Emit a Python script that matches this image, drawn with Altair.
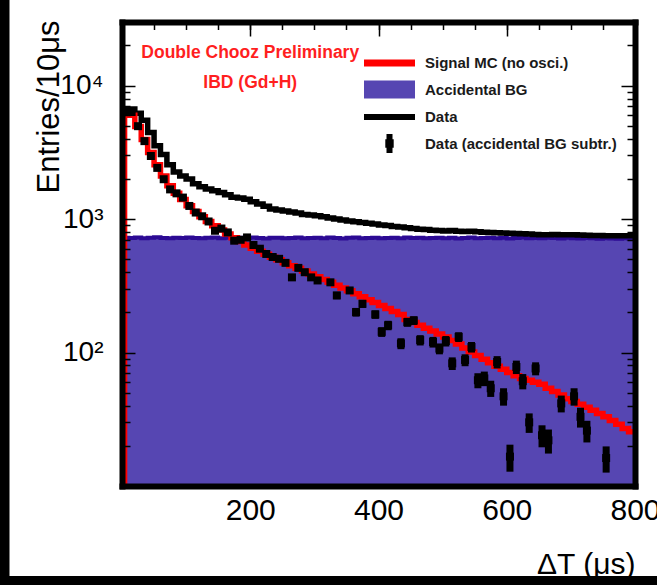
import altair as alt
import pandas as pd

# ---------------- data ----------------
bin_lo = list(range(0, 800, 10))  # 10 us bins
mc_start = 4  # left edge of the MC histogram as drawn

mc_vals = [6400, 6000, 4950, 3950, 3150, 2550, 2100, 1780, 1560, 1400,
           1260, 1140, 1040, 960, 890, 830, 775, 725, 680, 640,
           605, 575, 545, 518, 495, 470, 448, 428, 408, 388,
           370, 353, 336, 320, 305, 290, 276, 262, 249, 237,
           225, 214, 203, 193, 177, 168, 160, 152, 145, 138,
           131, 123, 116, 108, 101, 95, 89, 84, 79, 75,
           71, 67, 64, 62, 60, 58, 54, 51, 48, 45,
           43, 41, 39, 37, 35, 33, 31, 29, 27, 25.5]

bg_vals = [725, 722, 728, 720, 724, 730, 722, 718, 726, 721,
           729, 723, 719, 725, 727, 720, 724, 718, 726, 722,
           728, 721, 717, 724, 726, 720, 723, 729, 718, 722,
           725, 719, 727, 721, 716, 724, 728, 720, 722, 726,
           718, 723, 725, 719, 727, 721, 724, 718, 722, 726,
           720, 725, 717, 723, 728, 719, 722, 726, 720, 724,
           716, 722, 727, 719, 723, 718, 725, 721, 717, 724,
           720, 716, 722, 718, 714, 720, 716, 712, 718, 714]

data_vals = [6700, 6700, 6200, 5500, 4450, 3550, 3050, 2550, 2250, 2100,
             2000, 1840, 1750, 1680, 1630, 1580, 1520, 1460, 1440, 1410,
             1350, 1300, 1250, 1190, 1170, 1150, 1130, 1110, 1085, 1075,
             1060, 1040, 1020, 1000, 985, 970, 955, 945, 930, 918,
             905, 895, 880, 872, 860, 850, 840, 835, 826, 820,
             815, 822, 812, 808, 810, 805, 798, 795, 790, 786,
             785, 780, 776, 772, 768, 765, 764, 766, 763, 765,
             762, 760, 757, 755, 753, 751, 750, 752, 749, 750]

pt_x = [5, 15, 25, 35, 45, 55, 65, 75, 85, 95,
        105, 115, 125, 135, 145, 155, 165, 175, 185, 195,
        205, 215, 225, 235, 245, 255, 265, 275, 285, 295,
        305, 325, 335, 355, 365, 375, 395, 405, 415, 435,
        445, 455, 465, 485, 495, 505, 515, 525, 535, 545,
        555, 565, 575, 585, 595, 605, 615, 625, 635, 645,
        655, 665, 685, 705, 715, 725, 755]
pt_val = [6400, 6350, 4970, 3840, 2970, 2420, 1990, 1670, 1560, 1450,
          1255, 1120, 1050, 960, 818, 850, 795, 689, 700, 729,
          640, 600, 548, 520, 504, 470, 366, 431, 400, 366,
          347, 336, 268, 292, 201, 232, 193, 143, 160, 117,
          169, 174, 124, 120, 107, 122, 83, 131, 88, 110,
          62, 64, 54, 85, 47, 16.6, 78, 61, 30, 76,
          24, 22, 41.6, 47, 33, 26, 16.2]
pt_err = [80, 80, 70, 62, 55, 49, 45, 41, 40, 38,
          35, 34, 33, 31, 29, 30, 28, 27, 27, 27,
          26, 25, 24, 24, 23, 23, 20, 21, 20, 20,
          19, 18, 17, 17, 15, 16, 14, 12, 13, 11,
          13, 13, 11, 11, 10, 11, 9, 11, 9, 10,
          8, 8, 7.5, 9, 7, 3.8, 9, 8, 5, 8.5,
          4.5, 4.5, 6, 7, 5.6, 4.8, 3.6]

legend_names = ["Signal MC (no osci.)", "Accidental BG", "Data",
                "Data (accidental BG subtr.)"]
legend_colors = ["#ff0000", "#5646b2", "#000000", "#000000"]
legend_shapes = ["M-2.55,-0.35H2.55V0.35H-2.55Z",
                 "M-2.55,-0.9H2.55V0.9H-2.55Z",
                 "M-2.55,-0.3H2.55V0.3H-2.55Z",
                 "M-0.3,-0.95H0.3V0.95H-0.3ZM-0.42,-0.42H0.42V0.42H-0.42Z"]

y_tick_labels = {100: "10²", 1000: "10³", 10000: "10⁴"}
x_tick_labels = [200, 400, 600, 800]
x_major_ticks = [200, 400, 600]
x_minor_ticks = list(range(50, 800, 50))
y_major_ticks = [100, 1000, 10000]
y_minor_ticks = [m * d for d in (10, 100, 1000) for m in range(2, 10)] + [20000]

title_text = "Double Chooz Preliminary"
subtitle_text = "IBD (Gd+H)"

# ---------------- tables ----------------
edges = bin_lo + [800]
hist = pd.DataFrame({
    "x": edges,
    "bg": bg_vals + [bg_vals[-1]],
    "data": data_vals + [data_vals[-1]],
})
mc_df = pd.DataFrame({
    "x": [mc_start, mc_start] + edges[1:],
    "y": [1] + mc_vals + [mc_vals[-1]],
})
mc_df["i"] = range(len(mc_df))
pts = pd.DataFrame({"x": pt_x, "y": pt_val, "e": pt_err})
pts["lo"] = pts["y"] - pts["e"]
pts["hi"] = pts["y"] + pts["e"]
leg_df = pd.DataFrame({"name": legend_names})
one = pd.DataFrame({"a": [0]})

FONT = "Liberation Sans"
BG_FILL = "#5646b2"
BG_EDGE = "#2c0a94"
XS = alt.Scale(domain=[0, 800], nice=False, zero=False)
YS = alt.Scale(type="log", domain=[10, 30000], nice=False)


def tick_axis(orient, values, size):
    return alt.Axis(orient=orient, values=values, labels=False, domain=False,
                    ticks=True, tickSize=size, offset=-size, tickColor="black",
                    tickWidth=1.5, grid=False, title=None, zindex=1)


def frame_axis(orient):
    return alt.Axis(orient=orient, labels=False, ticks=False, domain=True,
                    domainColor="black", domainWidth=6, domainCap="square",
                    grid=False, title=None, zindex=1)


label_expr = " : ".join(
    f"datum.value == {k} ? '{v}'" for k, v in list(y_tick_labels.items())[:-1]
) + f" : '{list(y_tick_labels.values())[-1]}'"

y_label_axis = alt.Axis(
    orient="left", values=list(y_tick_labels.keys()), labelExpr=label_expr,
    labelFont=FONT, labelFontSize=28, labelColor="black", labelPadding=19,
    labelOverlap=False, ticks=False, tickSize=0, domain=True,
    domainColor="black", domainWidth=6, domainCap="square", grid=False,
    title="Entries/10μs", titleFont=FONT, titleFontSize=31,
    titleFontWeight="normal", titleColor="black", titleAngle=270,
    titleX=-64, titleY=-2, titleAlign="right", titleBaseline="alphabetic",
    zindex=1)

x_label_axis = alt.Axis(
    orient="bottom", values=x_tick_labels, labelFont=FONT, labelFontSize=30,
    labelColor="black", labelPadding=9, labelFlush=False, labelOverlap=False,
    ticks=False, tickSize=0, domain=True, domainColor="black", domainWidth=6,
    domainCap="square", grid=False, title="ΔT (μs)", titleFont=FONT,
    titleFontSize=30, titleFontWeight="normal", titleColor="black",
    titleX=513, titleY=87.5, titleAlign="right", titleBaseline="alphabetic",
    zindex=1)

# ---------------- layers ----------------
bg_area = alt.Chart(hist).mark_area(
    interpolate="step-after", color=BG_FILL, clip=True
).encode(
    x=alt.X("x:Q", scale=XS, axis=x_label_axis),
    y=alt.Y("bg:Q", scale=YS, axis=y_label_axis),
    y2=alt.datum(1),
)

bg_edge = alt.Chart(hist).mark_line(
    interpolate="step-after", color=BG_EDGE, strokeWidth=4, clip=True
).encode(
    x=alt.X("x:Q", scale=XS, axis=frame_axis("top")),
    y=alt.Y("bg:Q", scale=YS, axis=frame_axis("right")),
)

data_line = alt.Chart(hist).mark_line(
    interpolate="step-after", color="black", strokeWidth=5.5, clip=True
).encode(
    x=alt.X("x:Q", scale=XS, axis=tick_axis("top", x_minor_ticks, 7.5)),
    y=alt.Y("data:Q", scale=YS, axis=tick_axis("left", y_minor_ticks, 8)),
)

mc_line = alt.Chart(mc_df).mark_line(
    interpolate="step-after", color="#ff0000", strokeWidth=5.5, clip=True
).encode(
    x=alt.X("x:Q", scale=XS, axis=tick_axis("top", x_major_ticks, 14)),
    y=alt.Y("y:Q", scale=YS, axis=tick_axis("left", y_major_ticks, 13)),
    order="i:Q",
)

err_bars = alt.Chart(pts).mark_rule(
    color="black", strokeWidth=7, clip=True
).encode(
    x=alt.X("x:Q", scale=XS, axis=None),
    y=alt.Y("lo:Q", scale=YS, axis=tick_axis("right", y_major_ticks, 14)),
    y2="hi:Q",
)

points = alt.Chart(pts).mark_square(
    size=64, color="black", opacity=1, clip=True
).encode(
    x=alt.X("x:Q", scale=XS, axis=None),
    y=alt.Y("y:Q", scale=YS, axis=tick_axis("right", y_minor_ticks, 8)),
)

txt1 = alt.Chart(one).mark_text(
    text=title_text, font=FONT, fontSize=17.5, fontWeight="bold",
    color="#ff1f1f", align="center", baseline="middle"
).encode(x=alt.datum(200, scale=XS, axis=None),
         y=alt.datum(17500, scale=YS, axis=None))

txt2 = alt.Chart(one).mark_text(
    text=subtitle_text, font=FONT, fontSize=17.5, fontWeight="bold",
    color="#ff1f1f", align="center", baseline="middle"
).encode(x=alt.datum(200, scale=XS, axis=None),
         y=alt.datum(10400, scale=YS, axis=None))

leg = alt.Legend(
    title=None, orient="none", legendX=257.5, legendY=31, padding=0,
    symbolSize=400, symbolStrokeWidth=0, symbolOpacity=1, labelOffset=25.5,
    rowPadding=8.5, labelFont=FONT, labelFontSize=15, labelFontWeight="bold",
    labelColor="#1a1a1a", labelLimit=400,
)
legend_layer = alt.Chart(leg_df).mark_point(filled=True, opacity=0).encode(
    color=alt.Color("name:N", scale=alt.Scale(domain=legend_names, range=legend_colors), legend=leg),
    shape=alt.Shape("name:N", scale=alt.Scale(domain=legend_names, range=legend_shapes), legend=leg),
)

border_left = alt.Chart(one).mark_rect(color="black", clip=False).encode(
    x=alt.value(-122), x2=alt.value(-112.5), y=alt.value(-22), y2=alt.value(563))
border_bottom = alt.Chart(one).mark_rect(color="black", clip=False).encode(
    x=alt.value(-122), x2=alt.value(535), y=alt.value(554), y2=alt.value(563))

chart = alt.layer(
    bg_area, bg_edge, data_line, mc_line, err_bars, points,
    txt1, txt2, legend_layer, border_left, border_bottom
).resolve_axis(
    x="independent", y="independent"
).properties(
    width=513, height=464,
    autosize=alt.AutoSizeParams(type="none"),
    padding={"left": 122, "top": 22, "right": 22, "bottom": 99},
    background="white",
).configure(font=FONT).configure_view(stroke=None)

chart.save("out.html", embed_options={"renderer": "svg", "actions": False})
